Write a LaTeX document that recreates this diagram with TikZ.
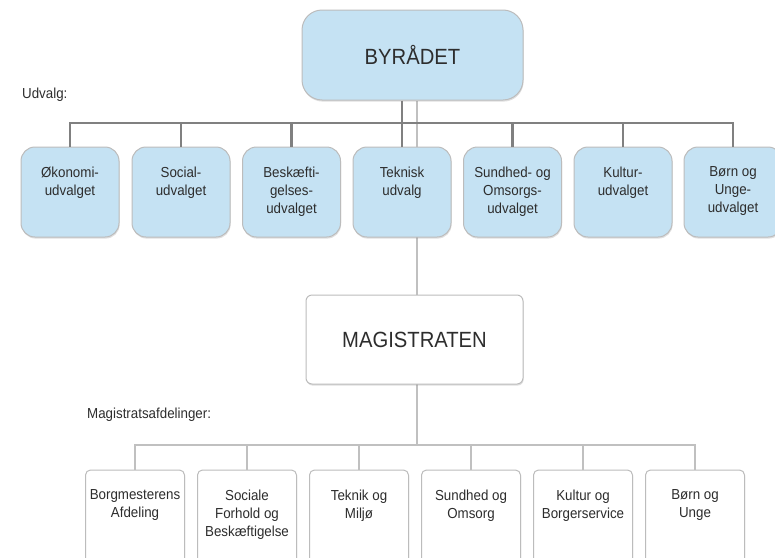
\documentclass[tikz,border=0pt]{standalone}
\usepackage{fontspec}
\setmainfont{Liberation Sans}[FakeStretch=0.92]
\usetikzlibrary{shadows,backgrounds}
\definecolor{boxblue}{RGB}{197,226,243}
\definecolor{boxline}{RGB}{188,188,188}
\definecolor{darkline}{RGB}{128,128,128}
\definecolor{lightline}{RGB}{192,192,192}
\definecolor{txtgray}{RGB}{45,45,45}
\tikzset{
  shade/.style={drop shadow={opacity=.25,shadow xshift=.6pt,shadow yshift=-1.6pt}},
  udv/.style={draw=boxline,line width=1pt,fill=boxblue,rounded corners=14pt,
    minimum width=98pt,minimum height=90pt,shade},
  afd/.style={draw=boxline,line width=1pt,fill=white,rounded corners=5pt,
    minimum width=99pt,minimum height=100pt,shade},
  boxtxt/.style={anchor=north,yshift=-20pt,align=center,text=txtgray,inner sep=0pt,
    font=\fontsize{14.5}{18}\selectfont},
  bigtxt/.style={text=txtgray,font=\fontsize{22}{26}\selectfont},
  lbl/.style={anchor=west,inner sep=0pt,text=txtgray,font=\fontsize{14.5}{18}\selectfont},
  dkline/.style={draw=darkline,line width=2.6pt},
  ltline/.style={draw=lightline,line width=2.6pt}
}
\begin{document}
\begin{tikzpicture}[x=1pt,y=-1pt]
  \useasboundingbox (0,0) rectangle (775,557);
  % top
  \node[bigtxt,draw=boxline,line width=1pt,fill=boxblue,rounded corners=20pt,
    minimum width=221pt,minimum height=90pt,shade] (byr) at (412.5,55) {BYRÅDET};
  \node[lbl] (udvlbl) at (22,95) {Udvalg:};
  % udvalg
  \node[udv] (u1) at (70,192) {};
  \node[udv] (u2) at (181,192) {};
  \node[udv] (u3) at (291.5,192) {};
  \node[udv] (u4) at (402,192) {};
  \node[udv] (u5) at (512.5,192) {};
  \node[udv] (u6) at (623,192) {};
  \node[udv] (u7) at (733,192) {};
  \node[boxtxt] (u1t) at (u1.north) {Økonomi-\\udvalget};
  \node[boxtxt] (u2t) at (u2.north) {Social-\\udvalget};
  \node[boxtxt] (u3t) at (u3.north) {Beskæfti-\\gelses-\\udvalget};
  \node[boxtxt] (u4t) at (u4.north) {Teknisk\\udvalg};
  \node[boxtxt] (u5t) at (u5.north) {Sundhed- og\\Omsorgs-\\udvalget};
  \node[boxtxt] (u6t) at (u6.north) {Kultur-\\udvalget};
  \node[boxtxt] (u7t) at (u7.north) {Børn og\\Unge-\\udvalget};
  % magistrat
  \node[bigtxt,draw=boxline,line width=1pt,fill=white,rounded corners=6pt,
    minimum width=217pt,minimum height=89pt,shade] (mag) at (414.5,339.5) {MAGISTRATEN};
  \node[lbl] (maglbl) at (87,415) {Magistratsafdelinger:};
  % afdelinger
  \node[afd] (a1) at (135,520) {};
  \node[afd] (a2) at (247,520) {};
  \node[afd] (a3) at (359,520) {};
  \node[afd] (a4) at (471,520) {};
  \node[afd] (a5) at (583,520) {};
  \node[afd] (a6) at (695,520) {};
  \node[boxtxt] (a1t) at (a1.north) {Borgmesterens\\Afdeling};
  \node[boxtxt] (a2t) at (a2.north) {Sociale\\Forhold og\\Beskæftigelse};
  \node[boxtxt] (a3t) at (a3.north) {Teknik og\\Miljø};
  \node[boxtxt] (a4t) at (a4.north) {Sundhed og\\Omsorg};
  \node[boxtxt] (a5t) at (a5.north) {Kultur og\\Borgerservice};
  \node[boxtxt] (a6t) at (a6.north) {Børn og\\Unge};
  % lines
  \coordinate (ubar) at (402,123);
  \coordinate (abar) at (417,445);
  \begin{pgfonlayer}{background}
    \draw[ltline] (byr.south -| abar) -- (abar);
  \end{pgfonlayer}
  \draw[dkline] (byr.south -| u4.north) -- (u4.north);
  \draw[dkline] (u1.north) -- (u1.north |- ubar) -- (u7.north |- ubar) -- (u7.north);
  \draw[dkline] (u2.north |- ubar) -- (u2.north);
  \draw[dkline] (u3.north |- ubar) -- (u3.north);
  \draw[dkline] (u5.north |- ubar) -- (u5.north);
  \draw[dkline] (u6.north |- ubar) -- (u6.north);
  \draw[ltline] (a1.north) -- (a1.north |- abar) -- (a6.north |- abar) -- (a6.north);
  \draw[ltline] (a2.north |- abar) -- (a2.north);
  \draw[ltline] (a3.north |- abar) -- (a3.north);
  \draw[ltline] (a4.north |- abar) -- (a4.north);
  \draw[ltline] (a5.north |- abar) -- (a5.north);
\end{tikzpicture}
\end{document}
